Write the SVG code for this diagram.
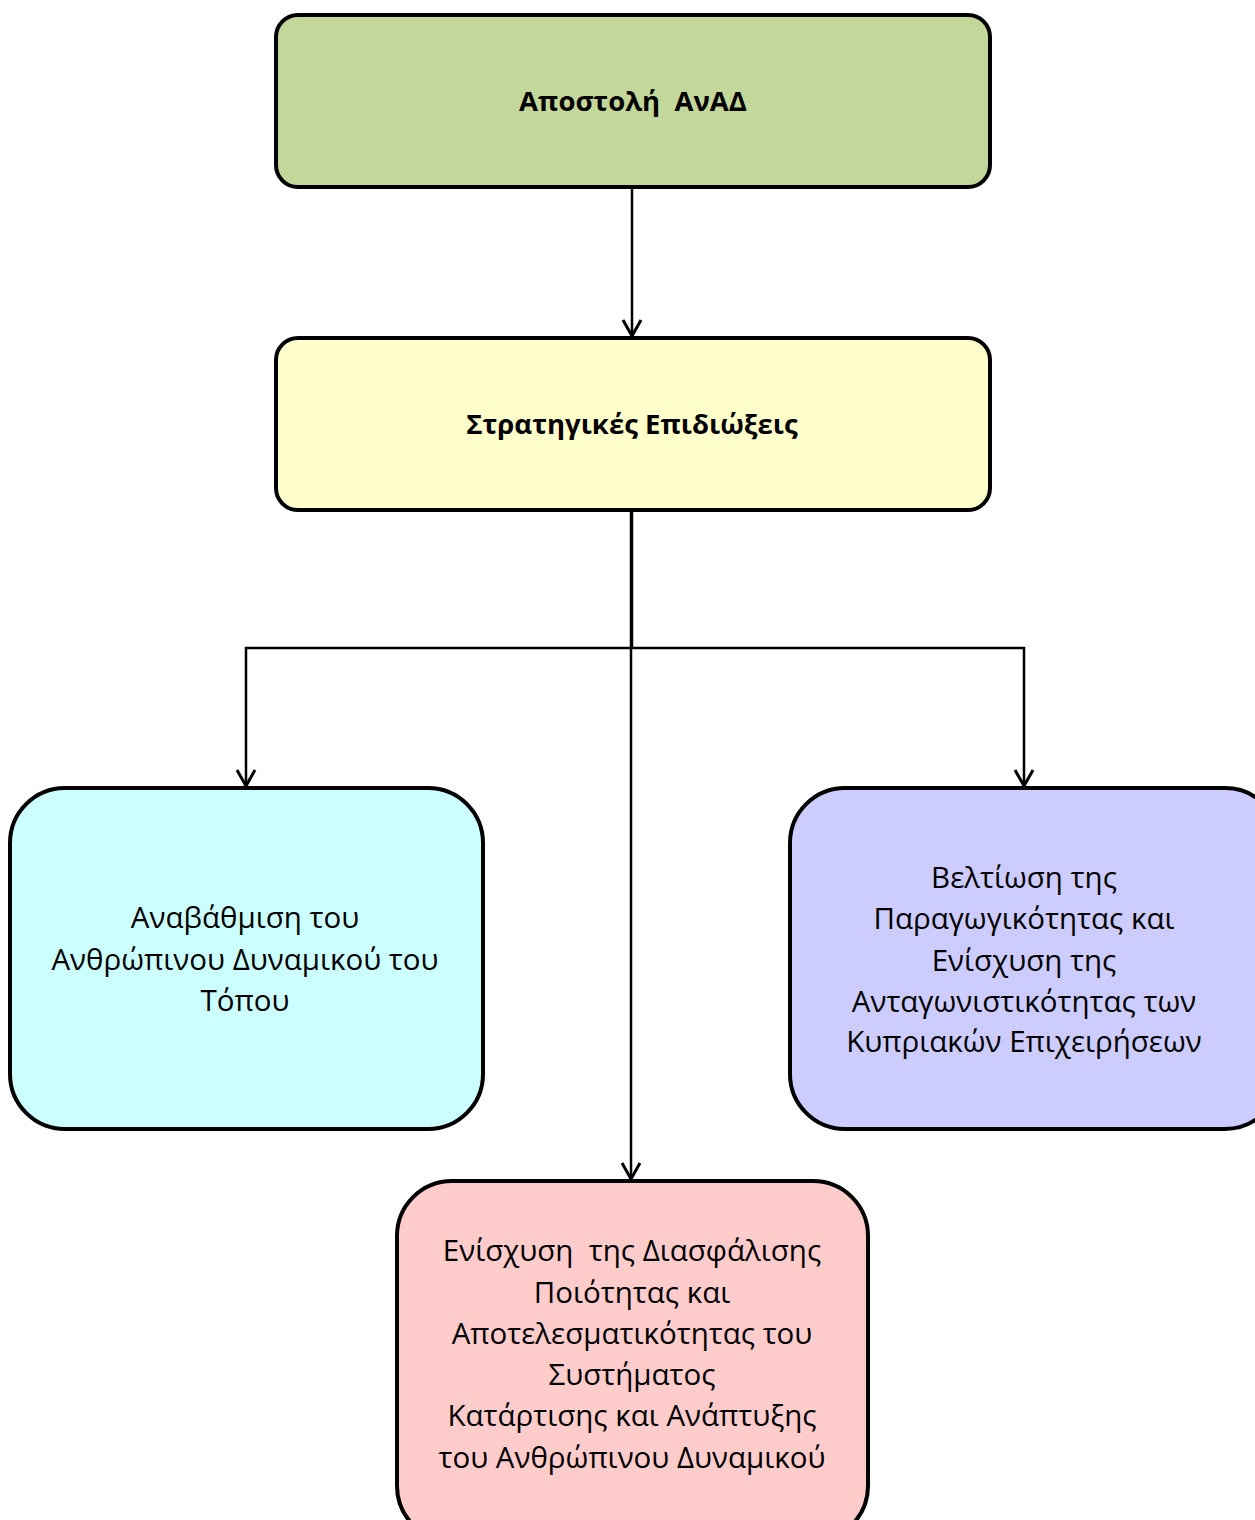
<svg xmlns="http://www.w3.org/2000/svg" width="1255" height="1520" viewBox="0 0 1255 1520">
<defs>
<marker id="arr" markerWidth="22" markerHeight="22" refX="18" refY="11" orient="auto" markerUnits="userSpaceOnUse" viewBox="0 0 22 22">
<path d="M2,2 L18,11 L2,20" fill="none" stroke="#000" stroke-width="3"/>
</marker>
<style>
.box{stroke:#000;stroke-width:4}
.t{font-family:"Open Sans","Noto Sans",sans-serif;font-size:29.5px;fill:#000;text-anchor:middle}
.b{font-weight:bold;font-size:27.5px}
.c{fill:none;stroke:#000;stroke-width:2.5}
</style>
</defs>
<rect width="1255" height="1520" fill="#fff"/>
<g id="connectors">
<line class="c" x1="632" y1="187" x2="632" y2="336" marker-end="url(#arr)"/>
<line class="c" x1="632" y1="510" x2="632" y2="648" stroke-width="3"/>
<polyline class="c" points="632,648 246,648 246,786" marker-end="url(#arr)"/>
<polyline class="c" points="632,648 1024,648 1024,786" marker-end="url(#arr)"/>
<line class="c" x1="631" y1="510" x2="631" y2="1179" marker-end="url(#arr)"/>
</g>
<g id="n1">
<rect class="box" x="276" y="15" width="714" height="172" rx="22" fill="#c4d79b"/>
<text class="t b" x="633" y="111" xml:space="preserve">Αποστολή  ΑνΑΔ</text>
</g>
<g id="n2">
<rect class="box" x="276" y="338" width="714" height="172" rx="22" fill="#ffffcc"/>
<text class="t b" x="632" y="434">Στρατηγικές Επιδιώξεις</text>
</g>
<g id="n3">
<rect class="box" x="10" y="788" width="473" height="341" rx="55" fill="#ccffff"/>
<text class="t" x="245" y="928">Αναβάθμιση του</text>
<text class="t" x="245" y="970">Ανθρώπινου Δυναμικού του</text>
<text class="t" x="245" y="1011">Τόπου</text>
</g>
<g id="n4">
<rect class="box" x="790" y="788" width="490" height="341" rx="55" fill="#ccccff"/>
<text class="t" x="1024" y="888">Βελτίωση της</text>
<text class="t" x="1024" y="929">Παραγωγικότητας και</text>
<text class="t" x="1024" y="971">Ενίσχυση της</text>
<text class="t" x="1024" y="1012">Ανταγωνιστικότητας των</text>
<text class="t" x="1024" y="1052">Κυπριακών Επιχειρήσεων</text>
</g>
<g id="n5">
<rect class="box" x="397" y="1181" width="471" height="360" rx="55" fill="#ffcccc"/>
<text class="t" x="632" y="1261" xml:space="preserve">Ενίσχυση  της Διασφάλισης</text>
<text class="t" x="632" y="1303">Ποιότητας και</text>
<text class="t" x="632" y="1344">Αποτελεσματικότητας του</text>
<text class="t" x="632" y="1385">Συστήματος</text>
<text class="t" x="632" y="1426">Κατάρτισης και Ανάπτυξης</text>
<text class="t" x="632" y="1468">του Ανθρώπινου Δυναμικού</text>
</g>
</svg>
